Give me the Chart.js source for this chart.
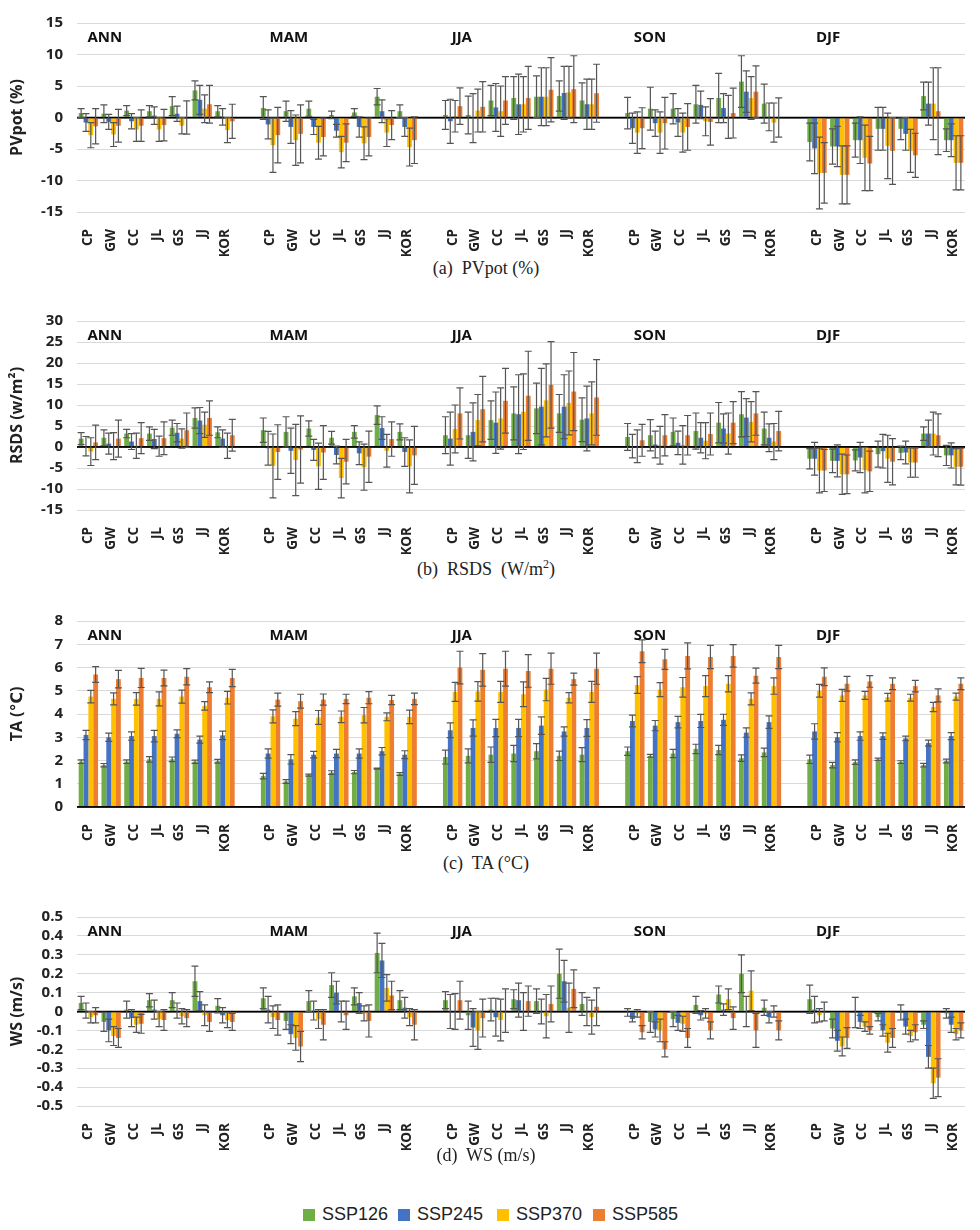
<!DOCTYPE html>
<html>
<head>
<meta charset="utf-8">
<script src="https://cdn.jsdelivr.net/npm/chart.js@4.4.0/dist/chart.umd.min.js"></script>
<style>
  body { margin: 0; background: #fff; width: 980px; height: 1230px; position: relative; overflow: hidden; }
  .panel { position: absolute; left: 0; width: 980px; }
  .cap { position: absolute; left: 0; width: 972px; text-align: center; font-family: "Liberation Serif", serif; font-size: 18px; color: #222; white-space: pre; }
  .legend { position: absolute; top: 1202px; left: 0; width: 980px; height: 24px; font-family: "Liberation Sans", sans-serif; font-size: 18px; color: #222; }
  .legend span { position: absolute; top: 0; line-height: 24px; }
  .legend i { display: inline-block; width: 12px; height: 12px; margin-right: 7px; vertical-align: -1px; }
</style>
</head>
<body>
<div class="panel" style="top:0px;height:256px"><canvas id="pv"></canvas></div>
<div class="cap" style="top:258px">(a)  PVpot (%)</div>
<div class="panel" style="top:298px;height:256px"><canvas id="rs"></canvas></div>
<div class="cap" style="top:557px">(b)  RSDS  (W/m<sup style="font-size:12px">2</sup>)</div>
<div class="panel" style="top:598px;height:253px"><canvas id="ta"></canvas></div>
<div class="cap" style="top:853px">(c)  TA (°C)</div>
<div class="panel" style="top:894px;height:256px"><canvas id="ws"></canvas></div>
<div class="cap" style="top:1145px">(d)  WS (m/s)</div>
<div class="legend" id="legend"></div>

<script>
const seasons = ['ANN', 'MAM', 'JJA', 'SON', 'DJF'];
const regions = ['CP', 'GW', 'CC', 'JL', 'GS', 'JJ', 'KOR'];
const scenarios = ['SSP126', 'SSP245', 'SSP370', 'SSP585'];
const colors = ['#70AD47', '#4472C4', '#FFC000', '#ED7D31'];

// (a) PVpot (%) - rows are seasons, columns are regions
const pv126 = [[0.7, 0.6, 1.1, 1.0, 1.8, 4.3, 1.0], [1.5, 1.0, 1.4, 0.4, 0.8, 3.3, 1.0], [0.4, 0.4, 2.7, 3.1, 3.3, 3.4, 2.7], [0.7, 1.4, 1.4, 2.1, 3.1, 5.7, 2.2], [-3.9, -4.6, -3.6, -1.8, -1.8, 3.4, -3.6]];
const pv245 = [[-0.8, -0.7, -0.6, 0.3, 0.6, 2.8, 0.1], [-1.1, -1.5, -1.5, -2.1, -1.5, 1.0, -1.5], [-0.6, -0.1, 1.6, 2.1, 3.3, 3.9, 2.1], [-1.7, -0.9, -0.8, 2.0, 1.5, 4.1, 0.1], [-4.9, -4.6, -3.6, -1.8, -2.6, 2.2, -3.6]];
const pv370 = [[-2.8, -2.7, -1.9, -1.9, -1.3, 1.4, -2.0], [-4.4, -3.6, -4.0, -5.5, -4.1, -2.4, -4.7], [0.2, 1.1, 1.0, 2.1, 3.3, 4.0, 2.1], [-2.4, -2.4, -2.4, -0.6, 0.1, 3.1, -0.8], [-8.8, -9.1, -6.4, -4.5, -5.3, 2.2, -7.2]];
const pv585 = [[-1.4, -1.3, -1.3, -1.2, 0.0, 2.1, -0.6], [-2.8, -2.6, -3.1, -4.0, -3.1, -1.2, -3.6], [1.8, 1.7, 2.7, 3.1, 4.4, 4.5, 3.85], [-1.7, -0.9, -1.5, -0.7, 0.7, 4.1, 0.0], [-8.8, -9.1, -7.3, -5.3, -6.0, 1.0, -7.2]];
const pvErr126 = [[0.7, 1.4, 0.8, 0.9, 1.5, 1.5, 0.9], [1.8, 1.6, 1.2, 0.6, 0.6, 1.3, 1.0], [2.3, 3.0, 2.4, 3.4, 3.3, 2.4, 2.8], [2.5, 3.4, 2.4, 3.0, 3.9, 4.1, 3.1], [3.0, 2.8, 2.7, 3.4, 1.7, 2.2, 1.8]];
const pvErr245 = [[1.4, 1.2, 1.2, 1.4, 1.2, 2.3, 1.3], [2.3, 2.6, 1.2, 1.0, 1.6, 1.8, 1.5], [3.5, 3.9, 3.8, 4.8, 4.6, 4.2, 4.0], [2.4, 2.1, 2.2, 2.2, 2.3, 3.3, 2.2], [4.0, 3.2, 3.7, 3.4, 2.6, 3.4, 2.6]];
const pvErr370 = [[2.0, 1.9, 1.9, 1.9, 1.3, 2.2, 2.0], [4.3, 4.0, 2.6, 2.5, 2.6, 2.2, 3.0], [2.5, 3.4, 4.0, 4.4, 4.6, 4.1, 4.0], [3.3, 3.3, 3.1, 2.3, 3.4, 3.4, 3.1], [5.7, 4.6, 5.2, 5.2, 3.4, 5.7, 4.3]];
const pvErr585 = [[2.8, 2.6, 2.5, 2.5, 2.65, 3.0, 2.7], [4.4, 4.6, 3.0, 3.0, 3.0, 2.3, 3.7], [2.9, 4.0, 3.8, 5.0, 5.1, 5.3, 4.6], [3.25, 4.1, 3.7, 3.7, 3.95, 4.1, 3.1], [4.8, 4.6, 4.3, 5.3, 3.5, 6.9, 4.3]];
const pvTicks = [-15, -10, -5, 0, 5, 10, 15];

// (b) RSDS (W/m2)
const rs126 = [[2.0, 2.2, 3.2, 3.2, 4.6, 6.9, 3.5], [4.0, 3.6, 4.4, 2.2, 3.6, 7.6, 3.6], [2.8, 2.8, 6.4, 8.0, 9.2, 8.0, 6.5], [2.4, 2.8, 3.6, 3.8, 5.8, 7.8, 4.4], [-2.8, -3.3, -3.2, -1.7, -1.4, 3.2, -2.0]];
const rs245 = [[0.2, 0.8, 1.3, 1.9, 3.4, 6.3, 2.0], [-0.3, -0.9, -0.7, -1.9, -1.5, 4.5, -1.2], [2.0, 3.6, 5.8, 7.8, 9.6, 9.6, 6.8], [0.2, 0.6, 1.0, 2.2, 4.4, 7.0, 2.2], [-2.8, -3.3, -2.5, -1.0, -1.3, 3.2, -2.0]];
const rs370 = [[-1.1, 0.2, 0.3, 0.2, 2.0, 5.3, 0.3], [-4.5, -3.1, -4.6, -7.4, -4.8, -0.9, -4.6], [4.3, 6.4, 6.8, 8.4, 11.1, 10.5, 8.0], [0.2, 0.4, 0.5, 1.5, 3.2, 6.0, 1.3], [-5.6, -6.5, -5.5, -2.8, -3.7, 3.2, -4.7]];
const rs585 = [[1.1, 2.0, 2.1, 2.1, 4.0, 6.9, 2.8], [-1.2, -0.6, -1.3, -3.5, -2.3, 1.9, -2.0], [8.0, 9.0, 11.0, 12.2, 14.8, 13.2, 11.8], [1.6, 2.8, 2.8, 3.1, 5.8, 8.0, 3.8], [-5.6, -6.5, -5.8, -3.5, -3.7, 2.8, -4.7]];
const rsErr126 = [[1.4, 1.9, 1.0, 1.6, 1.8, 2.4, 1.3], [2.9, 3.6, 1.8, 1.5, 1.5, 2.2, 1.9], [4.4, 5.5, 4.6, 6.3, 6.0, 4.5, 5.2], [3.2, 3.7, 3.3, 4.3, 4.8, 5.4, 3.9], [2.4, 2.8, 2.5, 3.1, 1.6, 1.6, 2.4]];
const rsErr245 = [[2.3, 2.5, 1.9, 2.3, 2.2, 3.1, 2.1], [4.0, 5.4, 2.5, 2.1, 2.7, 2.7, 3.4], [6.3, 6.9, 7.3, 9.4, 9.1, 7.6, 7.7], [2.8, 3.2, 2.8, 3.6, 3.5, 4.5, 3.3], [3.9, 3.8, 3.6, 4.0, 2.7, 3.2, 3.0]];
const rsErr370 = [[3.3, 3.2, 3.0, 2.4, 2.3, 3.0, 3.0], [7.6, 8.5, 5.5, 4.7, 5.5, 3.9, 6.3], [5.7, 6.1, 7.3, 9.0, 8.7, 7.6, 7.5], [3.9, 4.5, 4.6, 4.3, 4.9, 4.8, 4.3], [5.3, 4.8, 5.4, 5.6, 3.5, 5.1, 4.3]];
const rsErr585 = [[4.1, 4.4, 3.7, 3.9, 4.1, 4.1, 3.8], [6.5, 8.0, 6.4, 5.3, 6.1, 4.1, 6.9], [6.1, 7.8, 7.7, 10.6, 10.3, 9.3, 9.0], [3.8, 4.9, 4.7, 5.0, 5.0, 5.2, 4.7], [5.0, 4.6, 4.8, 5.5, 3.5, 5.1, 4.4]];
const rsTicks = [-15, -10, -5, 0, 5, 10, 15, 20, 25, 30];

// (c) TA (°C)
const ta126 = [[1.95, 1.8, 1.95, 2.05, 2.05, 1.95, 1.97], [1.33, 1.1, 1.37, 1.48, 1.5, 1.65, 1.42], [2.15, 2.2, 2.25, 2.3, 2.4, 2.2, 2.25], [2.4, 2.2, 2.3, 2.5, 2.45, 2.1, 2.35], [2.05, 1.8, 1.93, 2.05, 1.93, 1.8, 1.98]];
const ta245 = [[3.1, 3.0, 3.05, 3.05, 3.15, 2.9, 3.08], [2.3, 2.05, 2.25, 2.3, 2.3, 2.4, 2.25], [3.3, 3.4, 3.4, 3.4, 3.5, 3.25, 3.4], [3.7, 3.5, 3.65, 3.7, 3.75, 3.2, 3.65], [3.25, 3.0, 3.05, 3.05, 2.95, 2.75, 3.05]];
const ta370 = [[4.75, 4.65, 4.65, 4.65, 4.75, 4.35, 4.7], [3.9, 3.8, 3.85, 3.88, 3.95, 3.88, 3.88], [4.95, 4.97, 4.95, 4.85, 5.05, 4.7, 4.95], [5.25, 5.05, 5.15, 5.2, 5.3, 4.65, 5.2], [5.0, 4.8, 4.8, 4.72, 4.7, 4.3, 4.75]];
const ta585 = [[5.7, 5.5, 5.55, 5.55, 5.6, 5.15, 5.55], [4.62, 4.55, 4.62, 4.65, 4.7, 4.6, 4.65], [6.0, 5.9, 5.95, 5.85, 5.95, 5.5, 5.95], [6.7, 6.35, 6.5, 6.45, 6.5, 5.65, 6.45], [5.6, 5.3, 5.4, 5.3, 5.2, 4.8, 5.3]];
const taErr126 = [[0.08, 0.07, 0.08, 0.12, 0.1, 0.07, 0.08], [0.12, 0.08, 0.04, 0.08, 0.07, 0.02, 0.06], [0.3, 0.3, 0.33, 0.35, 0.33, 0.2, 0.3], [0.18, 0.06, 0.18, 0.2, 0.2, 0.14, 0.18], [0.18, 0.12, 0.1, 0.05, 0.06, 0.08, 0.08]];
const taErr245 = [[0.2, 0.18, 0.18, 0.25, 0.17, 0.15, 0.18], [0.2, 0.2, 0.14, 0.18, 0.2, 0.16, 0.17], [0.32, 0.35, 0.37, 0.37, 0.38, 0.2, 0.36], [0.25, 0.22, 0.25, 0.28, 0.24, 0.2, 0.27], [0.33, 0.2, 0.18, 0.14, 0.1, 0.13, 0.15]];
const taErr370 = [[0.27, 0.26, 0.27, 0.3, 0.28, 0.18, 0.27], [0.28, 0.3, 0.3, 0.25, 0.33, 0.17, 0.29], [0.41, 0.42, 0.45, 0.53, 0.48, 0.22, 0.45], [0.36, 0.3, 0.42, 0.45, 0.35, 0.26, 0.35], [0.27, 0.26, 0.17, 0.17, 0.15, 0.2, 0.15]];
const taErr585 = [[0.34, 0.38, 0.41, 0.34, 0.35, 0.23, 0.37], [0.28, 0.3, 0.24, 0.2, 0.26, 0.2, 0.25], [0.7, 0.7, 0.75, 0.7, 0.67, 0.26, 0.67], [0.49, 0.43, 0.56, 0.5, 0.48, 0.32, 0.5], [0.38, 0.32, 0.25, 0.25, 0.25, 0.28, 0.25]];
const taTicks = [0, 1, 2, 3, 4, 5, 6, 7, 8];

// (d) WS (m/s)
const ws126 = [[0.045, -0.055, 0.01, 0.06, 0.06, 0.16, 0.03], [0.07, -0.05, 0.055, 0.14, 0.08, 0.31, 0.06], [0.06, -0.02, 0.01, 0.065, 0.055, 0.2, 0.04], [-0.005, -0.055, -0.04, 0.035, 0.09, 0.2, 0.02], [0.065, -0.09, -0.005, -0.03, -0.005, -0.07, -0.01]];
const ws245 = [[0.005, -0.1, -0.035, 0.01, 0.005, 0.055, -0.02], [0.01, -0.12, 0.005, 0.1, 0.045, 0.27, 0.02], [0.0, -0.085, -0.03, 0.06, 0.0, 0.16, 0.0], [-0.04, -0.095, -0.06, -0.02, 0.01, 0.0, -0.03], [0.01, -0.155, -0.055, -0.1, -0.08, -0.24, -0.07]];
const ws370 = [[-0.03, -0.13, -0.07, -0.04, -0.025, -0.02, -0.045], [-0.03, -0.14, -0.04, 0.0, -0.01, 0.125, -0.03], [0.0, -0.1, -0.045, 0.0, -0.025, 0.02, -0.03], [-0.01, -0.1, -0.065, -0.01, 0.065, 0.11, 0.0], [-0.02, -0.185, -0.08, -0.165, -0.13, -0.38, -0.12]];
const ws585 = [[-0.02, -0.14, -0.065, -0.045, -0.035, -0.055, -0.055], [-0.045, -0.185, -0.07, -0.02, -0.05, 0.085, -0.07], [0.06, -0.035, 0.005, 0.055, 0.04, 0.12, 0.025], [-0.11, -0.2, -0.14, -0.1, -0.035, -0.1, -0.1], [0.0, -0.14, -0.1, -0.14, -0.11, -0.35, -0.1]];
const wsErr126 = [[0.035, 0.05, 0.045, 0.035, 0.04, 0.08, 0.038], [0.055, 0.045, 0.055, 0.065, 0.045, 0.105, 0.05], [0.045, 0.075, 0.06, 0.05, 0.065, 0.13, 0.06], [0.02, 0.055, 0.04, 0.045, 0.045, 0.1, 0.04], [0.075, 0.05, 0.08, 0.02, 0.04, 0.02, 0.025]];
const wsErr245 = [[0.04, 0.06, 0.045, 0.05, 0.04, 0.05, 0.04], [0.07, 0.05, 0.05, 0.06, 0.055, 0.09, 0.055], [0.09, 0.1, 0.1, 0.09, 0.065, 0.11, 0.075], [0.015, 0.04, 0.04, 0.025, 0.03, 0.08, 0.03], [0.07, 0.055, 0.035, 0.03, 0.04, 0.06, 0.04]];
const wsErr370 = [[0.03, 0.05, 0.04, 0.04, 0.04, 0.055, 0.04], [0.06, 0.065, 0.05, 0.055, 0.04, 0.07, 0.045], [0.095, 0.1, 0.11, 0.1, 0.115, 0.13, 0.09], [0.02, 0.06, 0.04, 0.025, 0.055, 0.105, 0.03], [0.035, 0.05, 0.025, 0.05, 0.03, 0.08, 0.03]];
const wsErr585 = [[0.04, 0.05, 0.05, 0.055, 0.045, 0.05, 0.045], [0.08, 0.08, 0.08, 0.075, 0.085, 0.075, 0.08], [0.1, 0.1, 0.115, 0.08, 0.095, 0.1, 0.1], [0.035, 0.04, 0.05, 0.045, 0.06, 0.09, 0.05], [0.05, 0.055, 0.02, 0.05, 0.04, 0.1, 0.04]];
const wsTicks = [-0.5, -0.4, -0.3, -0.2, -0.1, 0, 0.1, 0.2, 0.3, 0.4, 0.5];

const FONT = '"Open Sans", "DejaVu Sans", sans-serif';

// category labels with one empty slot between seasons
const labels = [];
const seasonStart = [];
seasons.forEach((s, i) => {
    if (i > 0) labels.push('');
    seasonStart.push(labels.length);
    regions.forEach(r => labels.push(r));
});

function flat(rows) {
    const out = [];
    rows.forEach((row, i) => {
        if (i > 0) out.push(null);
        out.push(...row);
    });
    return out;
}

// error bars + zero line + season names
const extras = {
    id: 'extras',
    afterDatasetsDraw(chart) {
        const { ctx, chartArea, scales: { x, y } } = chart;
        ctx.save();
        // zero axis line on top of bars
        const y0 = y.getPixelForValue(0);
        ctx.strokeStyle = '#000';
        ctx.lineWidth = 1.5;
        ctx.beginPath();
        ctx.moveTo(chartArea.left, y0);
        ctx.lineTo(chartArea.right, y0);
        ctx.stroke();

        ctx.strokeStyle = '#555';
        ctx.lineWidth = 1.2;
        chart.data.datasets.forEach((ds, i) => {
            const meta = chart.getDatasetMeta(i);
            meta.data.forEach((bar, j) => {
                const v = ds.data[j];
                const e = ds.err[j];
                if (v == null || e == null) return;
                const top = y.getPixelForValue(v + e);
                const bot = y.getPixelForValue(v - e);
                ctx.beginPath();
                ctx.moveTo(bar.x, top);
                ctx.lineTo(bar.x, bot);
                ctx.moveTo(bar.x - 3.5, top);
                ctx.lineTo(bar.x + 3.5, top);
                ctx.moveTo(bar.x - 3.5, bot);
                ctx.lineTo(bar.x + 3.5, bot);
                ctx.stroke();
            });
        });

        ctx.fillStyle = '#111';
        ctx.font = 'bold 15px ' + FONT;
        ctx.textAlign = 'left';
        ctx.textBaseline = 'middle';
        seasons.forEach((s, i) => {
            ctx.fillText(s, x.getPixelForValue(seasonStart[i]) - 1, chartArea.top + 15);
        });
        ctx.restore();
    }
};

function makeChart(id, title, means, errs, ticks) {
    const isZero = v => Math.abs(v) < 1e-9;
    return new Chart(document.getElementById(id), {
        type: 'bar',
        data: {
            labels: labels,
            datasets: scenarios.map((name, k) => ({
                label: name,
                data: flat(means[k]),
                err: flat(errs[k]),
                backgroundColor: colors[k],
                borderWidth: 0,
                categoryPercentage: 0.85,
                barPercentage: 1.0
            }))
        },
        options: {
            responsive: true,
            maintainAspectRatio: false,
            animation: false,
            layout: { padding: { top: 16, right: 15, left: 0, bottom: 0 } },
            plugins: {
                legend: { display: false },
                tooltip: { enabled: false }
            },
            scales: {
                x: {
                    grid: { display: false },
                    border: { display: false },
                    ticks: {
                        autoSkip: false,
                        minRotation: 90,
                        maxRotation: 90,
                        padding: 9,
                        color: '#222',
                        font: { family: FONT, size: 13.5, weight: 'bold' }
                    },
                    afterFit: s => { s.height = 44; }
                },
                y: {
                    min: ticks[0],
                    max: ticks[ticks.length - 1],
                    afterBuildTicks: s => { s.ticks = ticks.map(v => ({ value: v })); },
                    border: { display: false },
                    grid: {
                        drawTicks: false,
                        color: c => isZero(c.tick.value) ? '#000' : '#d9d9d9',
                        lineWidth: c => isZero(c.tick.value) ? 1.5 : 1
                    },
                    ticks: {
                        autoSkip: false,
                        padding: 14,
                        color: '#222',
                        font: { family: FONT, size: 15, weight: 'bold' },
                        callback: v => isZero(v) ? '0' : String(Math.round(v * 10) / 10)
                    },
                    title: {
                        display: true,
                        text: title,
                        color: '#222',
                        padding: { top: 8, bottom: 0 },
                        font: { family: FONT, size: 16, weight: 'bold' }
                    },
                    afterFit: s => { s.width = 77; }
                }
            }
        },
        plugins: [extras]
    });
}

makeChart('pv', 'PVpot (%)', [pv126, pv245, pv370, pv585], [pvErr126, pvErr245, pvErr370, pvErr585], pvTicks);
makeChart('rs', 'RSDS (w/m²)', [rs126, rs245, rs370, rs585], [rsErr126, rsErr245, rsErr370, rsErr585], rsTicks);
makeChart('ta', 'TA (℃)', [ta126, ta245, ta370, ta585], [taErr126, taErr245, taErr370, taErr585], taTicks);
makeChart('ws', 'WS (m/s)', [ws126, ws245, ws370, ws585], [wsErr126, wsErr245, wsErr370, wsErr585], wsTicks);

// legend
const legendX = [303, 398, 497, 593];
const legend = document.getElementById('legend');
scenarios.forEach((name, k) => {
    const item = document.createElement('span');
    item.style.left = legendX[k] + 'px';
    item.innerHTML = '<i style="background:' + colors[k] + '"></i>' + name;
    legend.appendChild(item);
});
</script>
</body>
</html>
